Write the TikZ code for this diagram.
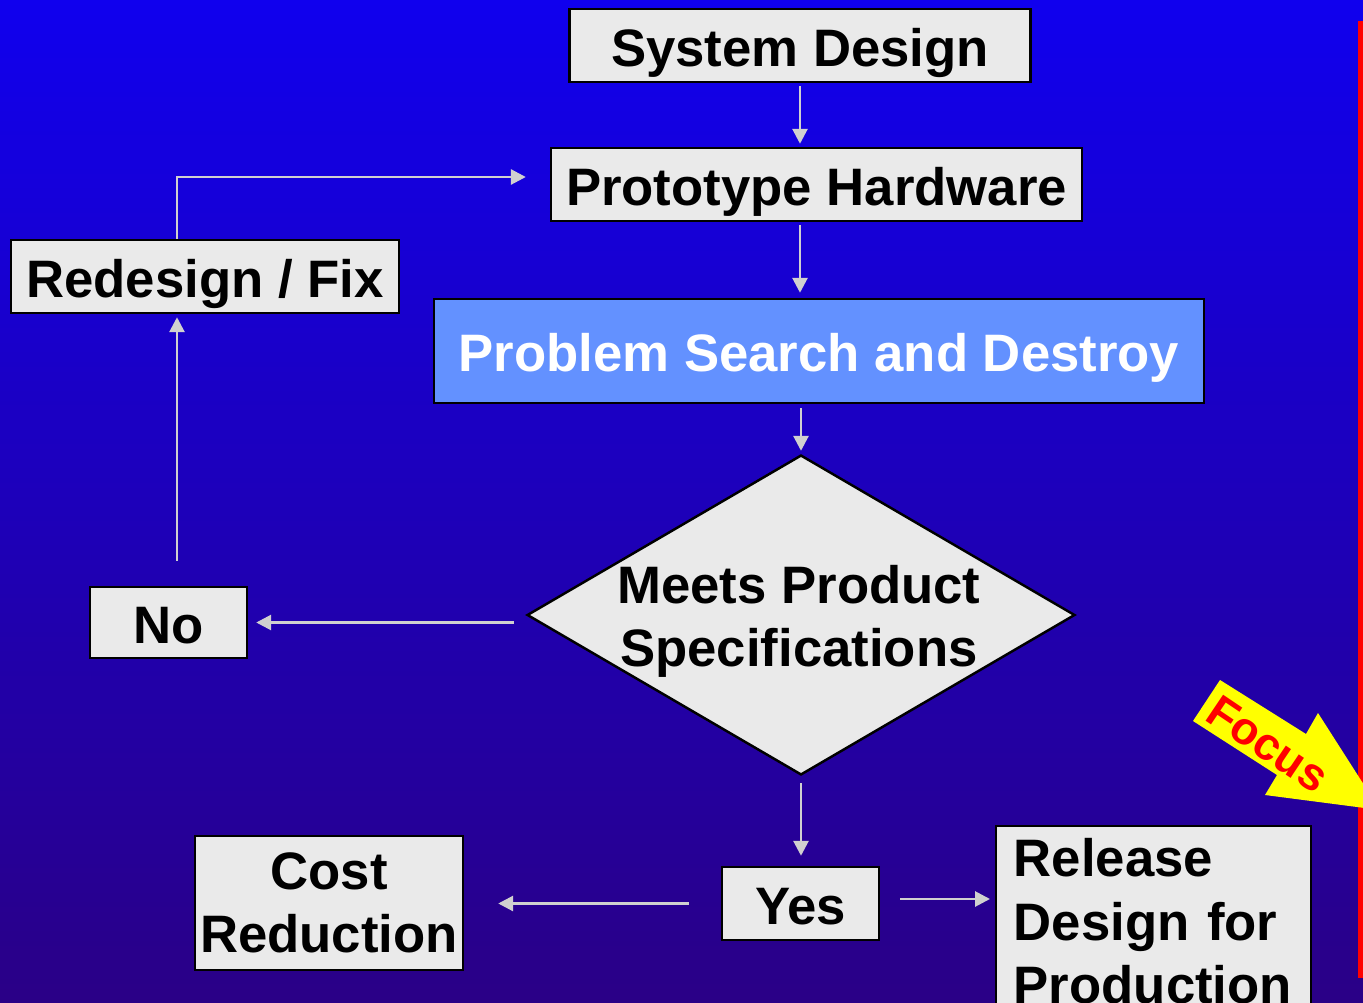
\documentclass[tikz,border=0pt]{standalone}
\usepackage{fontspec}
\setmainfont{Liberation Sans}
\usepackage{xcolor}
\usepackage{tikz}
\usetikzlibrary{shapes,arrows.meta,calc}

\definecolor{bgtop}{RGB}{16,0,238}
\definecolor{bgbottom}{RGB}{42,0,134}
\definecolor{boxgray}{RGB}{234,234,234}
\definecolor{searchblue}{RGB}{99,145,255}
\definecolor{arrowgray}{RGB}{208,208,208}
\definecolor{focusred}{RGB}{255,0,0}
\definecolor{focusyellow}{RGB}{255,255,0}

\begin{document}
\begin{tikzpicture}[
    x=0.02cm, y=-0.02cm,
    every node/.style={font=\bfseries\fontsize{30}{36}\selectfont},
    flowbox/.style={draw=black, line width=1.4pt, fill=boxgray, inner sep=0pt},
    onerow/.style={text height=23.4pt, text depth=0pt},
    flowarrow/.style={draw=arrowgray, line width=1.6pt, -{Triangle[length=0.3cm,width=0.3cm]}}
]
\useasboundingbox (0,0) rectangle (1363,1003);
\clip (0,0) rectangle (1363,1003);
\shade[top color=bgtop, bottom color=bgbottom] (0,0) rectangle (1363,1003);
\fill[focusred] (1358,21) rectangle (1363,978);

\node[flowbox, onerow, minimum width=9.22cm, minimum height=1.46cm] (sys) at (800,45.5) {System Design};
\node[flowbox, onerow, minimum width=10.62cm, minimum height=1.46cm] (proto) at (816.5,184.5) {Prototype Hardware};
\node[flowbox, onerow, fill=searchblue, text=white, minimum width=15.4cm, minimum height=2.08cm] (search) at (819,351) {Problem Search and Destroy};
\node[draw=black, line width=1.4pt, fill=boxgray, diamond, minimum width=10.96cm, minimum height=6.4cm, inner sep=0pt] (dia) at (801,615) {};
\node[align=center] (diatext) at (799,621) {Meets Product\\Specifications};
\node[flowbox, onerow, minimum width=7.76cm, minimum height=1.46cm] (fix) at (205,276.5) {Redesign / Fix};
\node[flowbox, onerow, minimum width=3.14cm, minimum height=1.42cm] (no) at (168.5,622.5) {No};
\node[flowbox, onerow, minimum width=3.14cm, minimum height=1.46cm] (yes) at (800.5,903.5) {Yes};
\node[flowbox, align=center, minimum width=5.36cm, minimum height=2.68cm] (cost) at (329,903) {Cost\\Reduction};
\node[flowbox, anchor=north west, align=left, text width=5.6cm, inner xsep=0.35cm, minimum height=3.8cm] (release) at (995,825) {Release\\Design for\\Production};

\coordinate (bend) at (177,177);
\coordinate (yesright) at ($(yes.east)+(0,-4.5)$);

\draw[flowarrow, shorten <=0.06cm, shorten >=0.06cm] (sys.south) -- (sys.south |- proto.north);
\draw[flowarrow, shorten <=0.06cm, shorten >=0.1cm] (sys.south |- proto.south) -- (sys.south |- search.north);
\draw[flowarrow, shorten <=0.08cm, shorten >=0.06cm] (dia.north |- search.south) -- (dia.north);
\draw[flowarrow, shorten <=0.24cm, shorten >=0.16cm] (dia.west |- no.east) -- (no.east);
\draw[flowarrow, shorten <=0.5cm, shorten >=0.06cm] (bend |- no.north) -- (bend |- fix.south);
\draw[flowarrow, shorten >=0.48cm] (bend |- fix.north) -- (bend) -- (bend -| proto.west);
\draw[flowarrow, shorten <=0.14cm, shorten >=0.2cm] (dia.south) -- (dia.south |- yes.north);
\draw[flowarrow, shorten <=0.64cm, shorten >=0.68cm] (yes.west) -- (yes.west -| cost.east);
\draw[flowarrow, shorten <=0.4cm, shorten >=0.1cm] (yesright) -- (yesright -| release.west);

\fill[focusyellow] (1220,680) -- (1306,734) -- (1318,713) -- (1380,810) -- (1265,795) -- (1277,775) -- (1193,721) -- cycle;
\node[text=focusred, rotate=-34, font=\bfseries\fontsize{26}{30}\selectfont] (focus) at (1268,744) {Focus};
\end{tikzpicture}
\end{document}
